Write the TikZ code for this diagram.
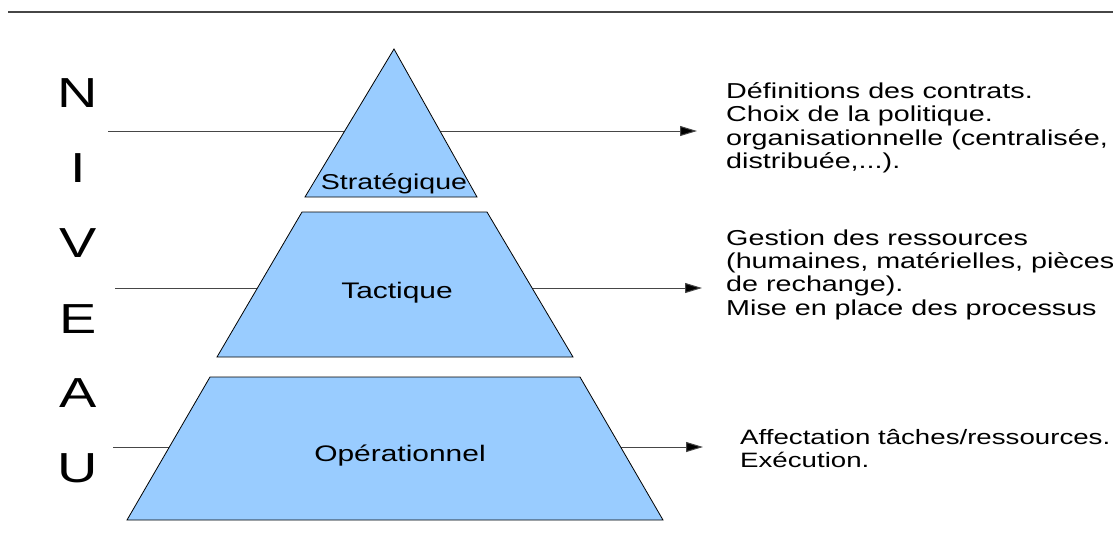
\documentclass[tikz,border=0pt]{standalone}
\usepackage{fontspec}
\setmainfont{Liberation Sans}[FakeStretch=1.33]
\usetikzlibrary{arrows.meta}
\definecolor{niveaubleu}{RGB}{153,204,255}
\definecolor{trait}{RGB}{70,70,70}

\begin{document}
\begin{tikzpicture}[x=1pt, y=-1pt,
    couche/.style={draw=black, line width=0.8pt, fill=niveaubleu},
    fleche/.style={draw=trait, line width=1pt, -{Triangle[length=17pt,width=10pt,fill=black]}},
    lettre/.style={font=\fontsize{42}{48}\selectfont, inner sep=0pt},
    etiquette/.style={font=\fontsize{22.5}{24}\selectfont, anchor=base, inner sep=0pt},
    texte/.style={font=\fontsize{21.6}{23.3}\selectfont, align=left, anchor=north west, inner sep=0pt}]

    \useasboundingbox (0,0) rectangle (1113,539);
    \draw [trait, line width=1.5pt] (8,12) -- (1113,12);

    \node[lettre] (N) at (78,93)  {N};
    \node[lettre] (I) at (78,168) {I};
    \node[lettre] (V) at (78,243) {V};
    \node[lettre] (E) at (78,319) {E};
    \node[lettre] (A) at (78,393) {A};
    \node[lettre] (U) at (78,468) {U};

    \coordinate (s1) at (108,131);
    \coordinate (s2) at (697,131);
    \coordinate (t1) at (115,288);
    \coordinate (t2) at (702,288);
    \coordinate (o1) at (113,447);
    \coordinate (o2) at (703,447);

    \draw [fleche] (s1) -- (s2);
    \draw [fleche] (t1) -- (t2);
    \draw [fleche] (o1) -- (o2);

    \draw [couche] (394,49) -- (477,197) -- (305,197) -- cycle;
    \draw [couche] (302,212) -- (487,212) -- (573,357) -- (217,357) -- cycle;
    \draw [couche] (210,377) -- (580,377) -- (663,520) -- (127,520) -- cycle;

    \node[etiquette, font=\fontsize{21.5}{24}\selectfont] (strat) at (394,189) {Stratégique};
    \node[etiquette] (tact)  at (397,298) {Tactique};
    \node[etiquette] (oper)  at (400,461) {Opérationnel};

    \node[texte] (txtstrat) at (726,82.5) {Définitions des contrats.\\Choix de la politique.\\organisationnelle (centralisée,\\distribuée,...).};
    \node[texte] (txttact)  at (726,229.5) {Gestion des ressources\\(humaines, matérielles, pièces\\de rechange).\\Mise en place des processus};
    \node[texte, font=\fontsize{20.8}{23.3}\selectfont] (txtoper) at (740,429) {Affectation tâches/ressources.\\Exécution.};
\end{tikzpicture}
\end{document}
